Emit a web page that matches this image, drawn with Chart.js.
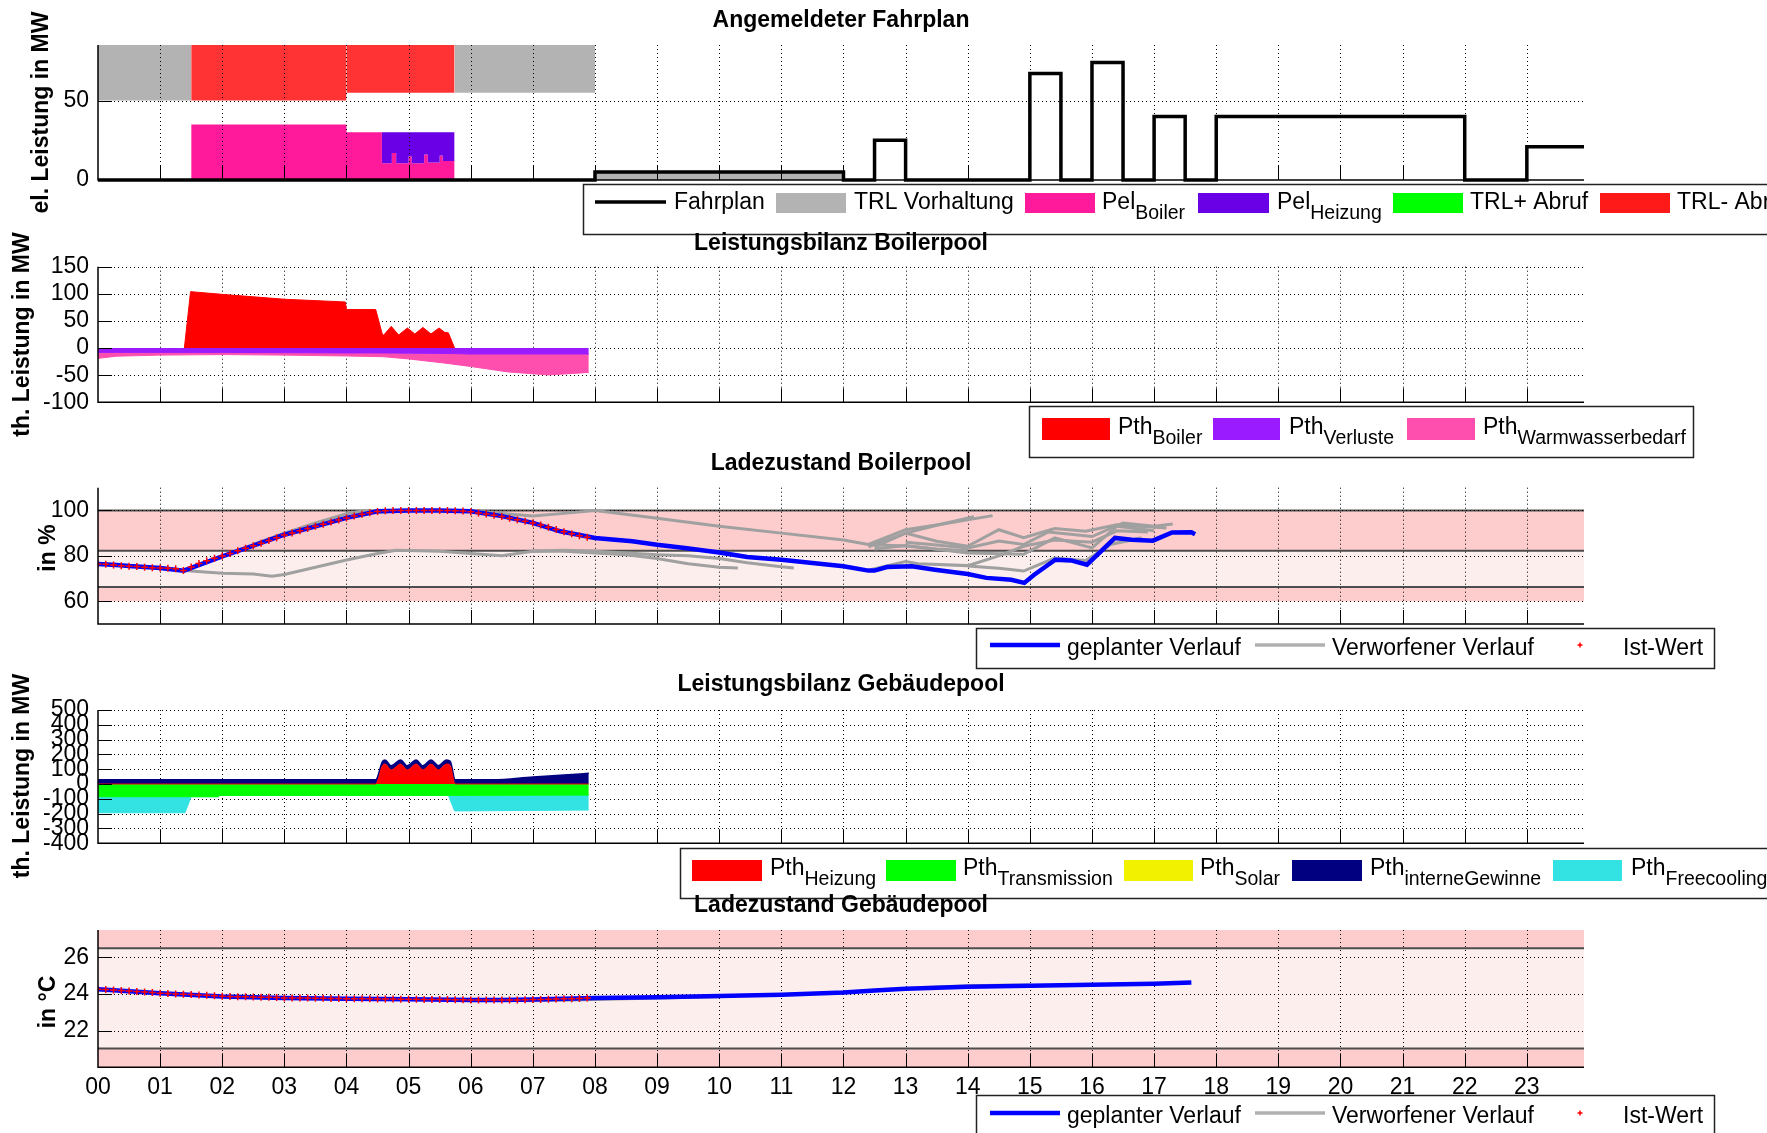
<!DOCTYPE html>
<html>
<head>
<meta charset="utf-8">
<title>Fahrplan und Pools</title>
<script src="https://cdn.jsdelivr.net/npm/chart.js@4.4.0/dist/chart.umd.min.js"></script>
<style>
  html, body { margin: 0; padding: 0; background: #fff; overflow: hidden; }
  #wrap { position: relative; width: 1767px; height: 1133px; }
  #wrap canvas { position: absolute; left: 0; top: 0; }
</style>
</head>
<body>
<div id="wrap"></div>
<script>
// ---------- time axis (hours of the day) ----------
const hourTicks = [0, 1, 2, 3, 4, 5, 6, 7, 8, 9, 10, 11, 12, 13, 14, 15, 16, 17, 18, 19, 20, 21, 22, 23];
const hourLabels = ['00', '01', '02', '03', '04', '05', '06', '07', '08', '09', '10', '11',
                    '12', '13', '14', '15', '16', '17', '18', '19', '20', '21', '22', '23'];

// ---------- Angemeldeter Fahrplan (MW) ----------
const fahrplanT  = [0, 8, 12, 12.5, 13, 15, 15.5, 16, 16.5, 17, 17.5, 18, 22, 23, 23.92];
const fahrplanMW = [0, 5, 0, 25, 0, 67, 0, 74, 0, 40, 0, 40, 0, 21, 21];
// reserve blocks: [from h, to h, lower MW, upper MW]
const trlVorhaltung = [[0, 1.5, 50, 85], [5.74, 8, 55, 85], [8, 12, 0, 4.5]];
const trlMinusAbruf = [[1.5, 4.0, 50, 85], [4.0, 5.74, 55, 85]];
const pelT       = [1.5, 4.0, 4.57, 4.73, 4.80, 5.00, 5.05, 5.25, 5.31, 5.50, 5.55, 5.74];
const pelBoiler  = [35, 30, 10.5, 17, 10.5, 15, 10.5, 16, 11, 15.5, 12, 0];
const pelHeizung = [0, 0, 19.5, 13, 19.5, 15, 19.5, 14, 19, 14.5, 18, 0];

// ---------- Leistungsbilanz Boilerpool (MW) ----------
const pthBoilerT = [1.39, 1.49, 2.0, 3.0, 3.98, 4.0, 4.47, 4.58, 4.60, 4.72, 4.84, 4.98, 5.10, 5.23, 5.36, 5.49, 5.58, 5.64, 5.74];
const pthBoiler  = [0, 104, 99, 90, 85, 71, 71, 24, 24, 40, 24, 37, 26, 38, 26, 37, 29, 28, 0];
const pthBedarfT = [0, 0.3, 1, 2, 3, 4, 4.6, 5, 5.6, 6, 6.6, 7.25, 7.9];
const pthVerluste      = [-8, -8, -8, -8, -8.5, -9, -9, -9.5, -10, -11, -11, -11, -11];
const pthWarmwasser    = [-11, -7, -5, -4, -4.5, -5.6, -7, -10.5, -18, -23, -33, -38.5, -34];

// ---------- Ladezustand Boilerpool (%) ----------
const boilerLimits = [60, 66.3, 82.2, 100];
const socPlanT = [0, 0.3, 0.5, 1.0, 1.38, 2.0, 2.5, 3.0, 3.5, 4.0, 4.5, 5.0, 5.5, 6.0, 6.5, 7.0, 7.44, 8.0, 8.6, 9.0,
                  9.45, 10.0, 10.45, 11.0, 11.5, 12.0, 12.4, 12.5, 12.7, 13.1, 13.47, 14.0, 14.3, 14.7, 14.91, 15.07,
                  15.41, 15.66, 15.92, 16.37, 16.64, 16.98, 17.29, 17.6, 17.66];
const socPlan  = [76.4, 76, 75.5, 74.7, 73.5, 79.8, 84.5, 89.3, 93, 96.7, 99.6, 100, 100, 99.6, 97.5, 94.5, 90.8, 87.9, 86.4, 84.9,
                  83.5, 81.5, 79.5, 78.3, 76.9, 75.4, 73.5, 73.5, 75.1, 75.4, 73.9, 72, 70.3, 69.5, 68.1, 71.7,
                  78.3, 78, 76.1, 87.9, 87.1, 86.7, 90.3, 90.4, 89.5];
// measured values, one every 7.5 min from 00:00
const socIst = [76.4, 76.3, 76.0, 75.6, 75.4, 75.3, 75.0, 74.8,
                74.7, 74.5, 74.3, 73.6, 75.1, 76.6, 77.8, 78.9,
                79.9, 81.0, 82.2, 83.3, 84.5, 85.6, 86.8, 88.0,
                89.2, 90.1, 91.1, 92.0, 93.0, 93.9, 94.9, 95.8,
                96.7, 97.5, 98.3, 99.0, 99.5, 99.8, 100, 100,
                100, 100, 100, 100, 100, 100, 99.9, 99.7,
                99.4, 98.9, 98.4, 97.9, 97.3, 96.6, 95.9, 95.2,
                94.5, 93.6, 92.6, 91.6, 90.6, 89.7, 88.9, 88.2];
const socVerworfen = [
  [[2.5, 3, 3.5, 4, 4.3, 4.6], [85, 90, 94.5, 98.5, 100, 100]],
  [[4.5, 5, 5.5, 6, 6.5, 7, 7.5, 8, 8.3, 9, 10, 11, 12, 12.4, 13, 13.5, 14], [99.2, 100, 100, 100, 98.6, 97.5, 98.7, 100, 99, 96.6, 93, 90, 87, 85, 84.3, 83, 82.3]],
  [[1.38, 2, 2.5, 2.8, 3, 3.5, 4, 4.5, 4.8, 5.5, 6, 6.5, 7, 7.5, 8, 8.5, 9, 9.5, 10, 10.3], [73.5, 72.3, 72, 71, 71.8, 75, 78.2, 81, 82.5, 82, 81, 80, 82, 82, 81.3, 80.5, 78.8, 76.5, 75, 74.6]],
  [[7, 7.5, 8, 9, 9.5, 10, 10.45, 11, 11.2], [82, 82.5, 82, 80.5, 80, 78.8, 77, 75.2, 74.7]],
  [[12.4, 13, 13.5, 14.1], [84, 90, 93.5, 97.2]],
  [[12.4, 13, 13.6, 14.4], [85, 91.5, 94, 97.7]],
  [[12.5, 13, 13.5, 14, 14.5, 14.9, 15.4, 15.9, 16.4, 17.2], [84, 90, 86.4, 84.2, 91.5, 88, 92, 90.8, 93.7, 92.3]],
  [[12.5, 13, 14, 14.9, 15.4, 16, 16.4, 17], [83, 84.5, 81.2, 80.7, 87.9, 83.5, 93, 91]],
  [[12.45, 13, 13.2, 14, 14.5, 14.9, 15.4, 16, 16.4, 16.9], [74, 77.5, 76.5, 75.7, 80, 84.2, 87, 86, 91, 90.5]],
  [[14, 14.5, 14.9, 15.4, 15.9, 16.3, 16.8], [75.5, 74.5, 73.3, 79, 78, 85, 88]],
  [[13, 13.5, 14, 14.5, 14.9, 15.3, 16, 16.5, 17, 17.3], [86, 84.8, 83.5, 86.5, 85, 90.5, 88.5, 94.5, 93, 94]]
];

// ---------- Leistungsbilanz Gebäudepool (MW) ----------
const gebT        = [0, 4.47, 4.58, 4.62, 4.72, 4.87, 4.98, 5.12, 5.23, 5.36, 5.48, 5.61, 5.67, 5.75, 6.36, 7.0, 7.5, 7.9];
const pthHeizung  = [0, 0, 125, 135, 95, 135, 95, 135, 95, 135, 95, 135, 125, 0, 0, 0, 0, 0];
const pthInterne  = [28, 28, 28, 28, 28, 28, 28, 28, 28, 28, 28, 28, 28, 28, 28, 48, 60, 72];
const gebKuehlT        = [0, 1.40, 1.50, 1.94, 1.95, 5.64, 5.74, 7.9];
const pthTransmission  = [-86, -86, -86, -86, -77, -77, -77, -75];
const pthFreecooling   = [-108, -108, 0, 0, 0, 0, -105, -101];

// ---------- Ladezustand Gebäudepool (°C) ----------
const roomLimits = [20, 21.03, 26.5, 27.5];
const tempPlanT = [0, 0.5, 1, 2, 3, 4, 5, 6, 6.5, 7, 8, 9, 10, 11, 12, 12.5, 13, 14, 15, 16, 17, 17.6];
const tempPlan  = [24.27, 24.15, 24.05, 23.87, 23.78, 23.75, 23.72, 23.68, 23.67, 23.7, 23.78, 23.83, 23.89, 23.96, 24.09, 24.2, 24.29, 24.4, 24.45, 24.51, 24.56, 24.63];
const tempIst = [24.27, 24.25, 24.22, 24.20, 24.17, 24.14, 24.11, 24.08,
                 24.05, 24.03, 24.01, 23.99, 23.97, 23.95, 23.93, 23.91,
                 23.88, 23.87, 23.86, 23.85, 23.84, 23.83, 23.82, 23.81,
                 23.79, 23.79, 23.78, 23.78, 23.77, 23.77, 23.76, 23.76,
                 23.75, 23.75, 23.74, 23.74, 23.73, 23.73, 23.73, 23.72,
                 23.72, 23.72, 23.71, 23.71, 23.70, 23.70, 23.69, 23.69,
                 23.68, 23.68, 23.67, 23.67, 23.67, 23.68, 23.68, 23.69,
                 23.70, 23.71, 23.72, 23.73, 23.74, 23.75, 23.76, 23.78];
const tempVerworfen = [
  [[6.5, 7, 7.5, 8, 9, 10], [23.66, 23.64, 23.66, 23.70, 23.78, 23.86]],
  [[13.2, 14, 14.5, 15], [24.35, 24.45, 24.48, 24.5]]
];

// ---------- layout & style ----------
const PAGE_W = 1767, PAGE_H = 1133;
const PLOT_LEFT = 98, PLOT_RIGHT = 1584, X_MAX = 23.92;
const X_LABEL_H = 45, TICK_LEN = 14;
const FONT = "'Liberation Sans', Arial, Helvetica, sans-serif";
const IST_STEP = 0.125;

const pts = (t, v) => t.map((x, i) => ({ x, y: v[i] }));
const sum = (a, b) => a.map((v, i) => v + b[i]);
const istPts = v => v.map((y, i) => ({ x: i * IST_STEP, y }));

function drawGrid(chart, o) {
  const { ctx, chartArea: a, scales: { x, y } } = chart;
  ctx.save();
  ctx.strokeStyle = '#000';
  ctx.lineWidth = 1;
  ctx.setLineDash([1, 3]);
  ctx.beginPath();
  hourTicks.forEach(h => {
    if (h <= 0) return;
    const px = Math.round(x.getPixelForValue(h)) + 0.5;
    ctx.moveTo(px, a.top); ctx.lineTo(px, a.bottom);
  });
  o.yGrid.forEach(v => {
    const py = Math.round(y.getPixelForValue(v)) + 0.5;
    ctx.moveTo(a.left, py); ctx.lineTo(a.right, py);
  });
  ctx.stroke();
  ctx.restore();
}

function drawAxes(chart) {
  const { ctx, chartArea: a, scales: { x, y } } = chart;
  ctx.save();
  ctx.setLineDash([]);
  ctx.strokeStyle = '#000';
  ctx.lineWidth = 1;
  ctx.beginPath();
  hourTicks.forEach(h => {
    if (h <= 0) return;
    const px = Math.round(x.getPixelForValue(h)) + 0.5;
    ctx.moveTo(px, a.bottom); ctx.lineTo(px, a.bottom - TICK_LEN);
  });
  y.ticks.forEach(t => {
    const py = Math.round(y.getPixelForValue(t.value)) + 0.5;
    ctx.moveTo(a.left, py); ctx.lineTo(a.left + TICK_LEN, py);
  });
  ctx.stroke();
  ctx.lineWidth = 1.5;
  ctx.beginPath();
  ctx.moveTo(a.left, a.top); ctx.lineTo(a.left, a.bottom); ctx.lineTo(a.right, a.bottom);
  ctx.stroke();
  ctx.restore();
}

function drawBands(chart, o) {
  const { ctx, chartArea: a, scales: { y } } = chart;
  const e = o.limits;
  const fills = [[e[0], e[1], '#fdcccc'], [e[1], e[2], '#fdeeee'], [e[2], e[3], '#fdcccc']];
  ctx.save();
  fills.forEach(([lo, hi, col]) => {
    const y1 = y.getPixelForValue(hi), y0 = y.getPixelForValue(lo);
    ctx.fillStyle = col;
    ctx.fillRect(a.left, y1, a.right - a.left, y0 - y1);
  });
  ctx.strokeStyle = '#4d4d4d';
  ctx.lineWidth = 2;
  ctx.beginPath();
  o.limitLines.forEach(v => {
    const py = y.getPixelForValue(v);
    ctx.moveTo(a.left, py); ctx.lineTo(a.right, py);
  });
  ctx.stroke();
  ctx.restore();
}

function drawLegend(ctx, lg) {
  const [x0, y0, x1, y1] = lg.box;
  ctx.save();
  ctx.setLineDash([]);
  ctx.fillStyle = '#fff';
  ctx.fillRect(x0, y0, x1 - x0, y1 - y0);
  ctx.strokeStyle = '#222';
  ctx.lineWidth = 1.5;
  ctx.strokeRect(x0 + 0.5, y0 + 0.5, x1 - x0, y1 - y0);
  lg.items.forEach(it => {
    if (it.kind === 'rect') {
      ctx.fillStyle = it.color;
      ctx.fillRect(it.x0, lg.symTop, it.x1 - it.x0, lg.symH);
    } else if (it.kind === 'line') {
      ctx.strokeStyle = it.color;
      ctx.lineWidth = it.width;
      ctx.beginPath(); ctx.moveTo(it.x0, lg.lineY); ctx.lineTo(it.x1, lg.lineY); ctx.stroke();
    } else if (it.kind === 'cross') {
      ctx.strokeStyle = it.color;
      ctx.lineWidth = 1.5;
      ctx.beginPath();
      ctx.moveTo(it.x0 - 2.5, lg.lineY); ctx.lineTo(it.x0 + 2.5, lg.lineY);
      ctx.moveTo(it.x0, lg.lineY - 2.5); ctx.lineTo(it.x0, lg.lineY + 2.5);
      ctx.stroke();
    }
    ctx.fillStyle = '#000';
    ctx.textAlign = 'left';
    ctx.textBaseline = 'alphabetic';
    ctx.font = '23px ' + FONT;
    ctx.fillText(it.text, it.tx, lg.textY);
    if (it.sub) {
      const w = ctx.measureText(it.text).width;
      ctx.font = '19.5px ' + FONT;
      ctx.fillText(it.sub, it.tx + w, lg.textY + 10);
    }
  });
  ctx.restore();
}

const panelDecor = {
  id: 'panelDecor',
  beforeDatasetsDraw(chart, args, o) {
    if (o.limits) drawBands(chart, o);
    if (!o.gridOnTop) drawGrid(chart, o);
  },
  afterDatasetsDraw(chart, args, o) {
    if (o.gridOnTop) drawGrid(chart, o);
    drawAxes(chart);
  },
  afterDraw(chart, args, o) {
    const ctx = chart.ctx;
    const a = chart.chartArea;
    ctx.save();
    ctx.fillStyle = '#000';
    ctx.font = 'bold 23px ' + FONT;
    ctx.textAlign = 'center';
    ctx.textBaseline = 'alphabetic';
    ctx.fillText(o.title, (a.left + a.right) / 2, o.titleY);
    ctx.translate(o.ylabelX, o.ylabelY);
    ctx.rotate(-Math.PI / 2);
    ctx.fillText(o.ylabel, 0, 0);
    ctx.restore();
    if (o.legend) drawLegend(ctx, o.legend);
  }
};

function makePanel(cfg) {
  const canvas = document.createElement('canvas');
  canvas.width = PAGE_W;
  canvas.height = PAGE_H;
  document.getElementById('wrap').appendChild(canvas);
  const xh = cfg.xLabels ? X_LABEL_H : 0;
  return new Chart(canvas, {
    type: 'line',
    data: { datasets: cfg.datasets },
    options: {
      responsive: false,
      animation: false,
      devicePixelRatio: 1,
      layout: { padding: { left: 0, right: PAGE_W - PLOT_RIGHT, top: cfg.top, bottom: PAGE_H - cfg.bottom - xh } },
      elements: { point: { radius: 0 }, line: { tension: 0 } },
      plugins: { legend: { display: false }, tooltip: { enabled: false }, panelDecor: cfg.decor },
      scales: {
        x: {
          type: 'linear', min: 0, max: X_MAX, display: !!cfg.xLabels,
          grid: { display: false, drawTicks: false }, border: { display: false },
          afterBuildTicks: s => { s.ticks = hourTicks.map(v => ({ value: v })); },
          afterFit: s => { s.height = xh; },
          ticks: {
            autoSkip: false, maxRotation: 0, padding: 7, color: '#000',
            font: { family: FONT, size: 23 },
            callback: (v, i) => hourLabels[i]
          }
        },
        y: {
          type: 'linear', min: cfg.yMin, max: cfg.yMax,
          grid: { display: false, drawTicks: false }, border: { display: false },
          afterBuildTicks: s => { s.ticks = cfg.yTicks.map(v => ({ value: v })); },
          afterFit: s => { s.width = PLOT_LEFT; },
          ticks: {
            autoSkip: false, padding: 9, color: '#000',
            font: { family: FONT, size: 23 },
            callback: v => String(v)
          }
        }
      }
    },
    plugins: [panelDecor]
  });
}

const noLine = 'rgba(0,0,0,0)';
const blocks = (list, color) => list.map(([a, b, lo, hi]) => ({
  data: [{ x: a, y: hi }, { x: b, y: hi }], fill: { value: lo },
  backgroundColor: color, borderColor: noLine, borderWidth: 0
}));

// ---- 1: Angemeldeter Fahrplan ----
const fahrplanSets = [
  { data: pts(fahrplanT, fahrplanMW), stepped: true, borderColor: '#000', borderWidth: 3.5, fill: false, clip: false },
  { data: pts(pelT, sum(pelBoiler, pelHeizung)), stepped: true, fill: 2, backgroundColor: '#6a00e6', borderColor: noLine, borderWidth: 0 },
  { data: pts(pelT, pelBoiler), stepped: true, fill: 'origin', backgroundColor: '#ff1a9c', borderColor: noLine, borderWidth: 0 },
  ...blocks(trlMinusAbruf, '#ff3333'),
  ...blocks(trlVorhaltung, '#b3b3b3')
];
makePanel({
  top: 45, bottom: 180, yMin: 0, yMax: 85, yTicks: [0, 50],
  datasets: fahrplanSets,
  decor: {
    title: 'Angemeldeter Fahrplan', titleY: 27,
    ylabel: 'el. Leistung in MW', ylabelX: 48, ylabelY: 112.5,
    yGrid: [50], gridOnTop: true,
    legend: {
      box: [583, 184, 1800, 234], symTop: 193, symH: 20, lineY: 202, textY: 209,
      items: [
        { kind: 'line', color: '#000', width: 3.5, x0: 595, x1: 666, tx: 674, text: 'Fahrplan' },
        { kind: 'rect', color: '#b3b3b3', x0: 776, x1: 846, tx: 854, text: 'TRL Vorhaltung' },
        { kind: 'rect', color: '#ff1a9c', x0: 1025, x1: 1095, tx: 1102, text: 'Pel', sub: 'Boiler' },
        { kind: 'rect', color: '#6a00e6', x0: 1198, x1: 1269, tx: 1277, text: 'Pel', sub: 'Heizung' },
        { kind: 'rect', color: '#00ff00', x0: 1393, x1: 1463, tx: 1470, text: 'TRL+ Abruf' },
        { kind: 'rect', color: '#ff1a1a', x0: 1600, x1: 1670, tx: 1677, text: 'TRL- Abruf' }
      ]
    }
  }
});

// ---- 2: Leistungsbilanz Boilerpool ----
makePanel({
  top: 266.7, bottom: 402.3, yMin: -100, yMax: 150, yTicks: [-100, -50, 0, 50, 100, 150],
  datasets: [
    { data: pts(pthBoilerT, pthBoiler), fill: 'origin', backgroundColor: '#ff0000', borderColor: '#ff0000', borderWidth: 1 },
    { data: pts(pthBedarfT, pthVerluste), fill: 'origin', backgroundColor: '#9a1bff', borderColor: '#9a1bff', borderWidth: 1 },
    { data: pts(pthBedarfT, sum(pthVerluste, pthWarmwasser)), fill: 1, backgroundColor: '#ff4fae', borderColor: '#ff4fae', borderWidth: 1 }
  ],
  decor: {
    title: 'Leistungsbilanz Boilerpool', titleY: 250,
    ylabel: 'th. Leistung in MW', ylabelX: 29, ylabelY: 334.5,
    yGrid: [-50, 0, 50, 100, 150], gridOnTop: false,
    legend: {
      box: [1029, 406, 1693, 457], symTop: 418, symH: 22, lineY: 429, textY: 433.5,
      items: [
        { kind: 'rect', color: '#ff0000', x0: 1042, x1: 1110, tx: 1118, text: 'Pth', sub: 'Boiler' },
        { kind: 'rect', color: '#9a1bff', x0: 1213, x1: 1280, tx: 1289, text: 'Pth', sub: 'Verluste' },
        { kind: 'rect', color: '#ff4fae', x0: 1407, x1: 1475, tx: 1483, text: 'Pth', sub: 'Warmwasserbedarf' }
      ]
    }
  }
});

// ---- 3: Ladezustand Boilerpool ----
const stateLegend = (top, lineY, textY) => ({
  box: [976, top, 1714, top + 40], symTop: 0, symH: 0, lineY, textY,
  items: [
    { kind: 'line', color: '#0000ff', width: 4.5, x0: 990, x1: 1060, tx: 1067, text: 'geplanter Verlauf' },
    { kind: 'line', color: '#b0b0b0', width: 3.5, x0: 1255, x1: 1325, tx: 1332, text: 'Verworfener Verlauf' },
    { kind: 'cross', color: '#ff0000', x0: 1580, tx: 1623, text: 'Ist-Wert' }
  ]
});
const grayLines = list => list.map(([t, v]) => ({ data: pts(t, v), borderColor: '#a0a0a0', borderWidth: 3, fill: false }));
makePanel({
  top: 487.7, bottom: 624, yMin: 50, yMax: 110, yTicks: [60, 80, 100],
  datasets: [
    { data: istPts(socIst), showLine: false, pointStyle: 'cross', pointRadius: 3.5, pointBorderColor: '#ff0000', pointBorderWidth: 1.5 },
    { data: pts(socPlanT, socPlan), borderColor: '#0000ff', borderWidth: 4.5, fill: false },
    ...grayLines(socVerworfen)
  ],
  decor: {
    title: 'Ladezustand Boilerpool', titleY: 470,
    ylabel: 'in %', ylabelX: 55, ylabelY: 548,
    yGrid: [60, 80, 100], gridOnTop: false,
    limits: boilerLimits, limitLines: [boilerLimits[1], boilerLimits[2], boilerLimits[3]],
    legend: stateLegend(628, 645, 655)
  }
});

// ---- 4: Leistungsbilanz Gebäudepool ----
makePanel({
  top: 710, bottom: 843.2, yMin: -400, yMax: 500, yTicks: [-400, -300, -200, -100, 0, 100, 200, 300, 400, 500],
  datasets: [
    { data: pts(gebT, pthHeizung), fill: 'origin', backgroundColor: '#ff0000', borderColor: '#ff0000', borderWidth: 1, cubicInterpolationMode: 'monotone' },
    { data: pts(gebT, sum(pthHeizung, pthInterne)), fill: 0, backgroundColor: '#000080', borderColor: '#000080', borderWidth: 1.5, cubicInterpolationMode: 'monotone' },
    { data: pts(gebKuehlT, pthTransmission), fill: 'origin', backgroundColor: '#00ff00', borderColor: '#00ff00', borderWidth: 1 },
    { data: pts(gebKuehlT, sum(pthTransmission, pthFreecooling)), fill: 2, backgroundColor: '#33e3e3', borderColor: '#33e3e3', borderWidth: 1 }
  ],
  decor: {
    title: 'Leistungsbilanz Gebäudepool', titleY: 691,
    ylabel: 'th. Leistung in MW', ylabelX: 29, ylabelY: 776,
    yGrid: [-300, -200, -100, 0, 100, 200, 300, 400, 500], gridOnTop: false,
    legend: {
      box: [680, 848, 1800, 898], symTop: 860, symH: 21, lineY: 870, textY: 875,
      items: [
        { kind: 'rect', color: '#ff0000', x0: 692, x1: 762, tx: 770, text: 'Pth', sub: 'Heizung' },
        { kind: 'rect', color: '#00ff00', x0: 886, x1: 956, tx: 963, text: 'Pth', sub: 'Transmission' },
        { kind: 'rect', color: '#f2f200', x0: 1124, x1: 1193, tx: 1200, text: 'Pth', sub: 'Solar' },
        { kind: 'rect', color: '#000080', x0: 1292, x1: 1362, tx: 1370, text: 'Pth', sub: 'interneGewinne' },
        { kind: 'rect', color: '#33e3e3', x0: 1553, x1: 1622, tx: 1631, text: 'Pth', sub: 'Freecooling' }
      ]
    }
  }
});

// ---- 5: Ladezustand Gebäudepool ----
makePanel({
  top: 930, bottom: 1067.3, yMin: 20, yMax: 27.5, yTicks: [22, 24, 26], xLabels: true,
  datasets: [
    { data: istPts(tempIst), showLine: false, pointStyle: 'cross', pointRadius: 3.5, pointBorderColor: '#ff0000', pointBorderWidth: 1.5 },
    { data: pts(tempPlanT, tempPlan), borderColor: '#0000ff', borderWidth: 4.5, fill: false },
    ...grayLines(tempVerworfen)
  ],
  decor: {
    title: 'Ladezustand Gebäudepool', titleY: 912,
    ylabel: 'in °C', ylabelX: 55, ylabelY: 1002,
    yGrid: [22, 24, 26], gridOnTop: false,
    limits: roomLimits, limitLines: [roomLimits[1], roomLimits[2]],
    legend: stateLegend(1095, 1113, 1123)
  }
});
</script>
</body>
</html>
